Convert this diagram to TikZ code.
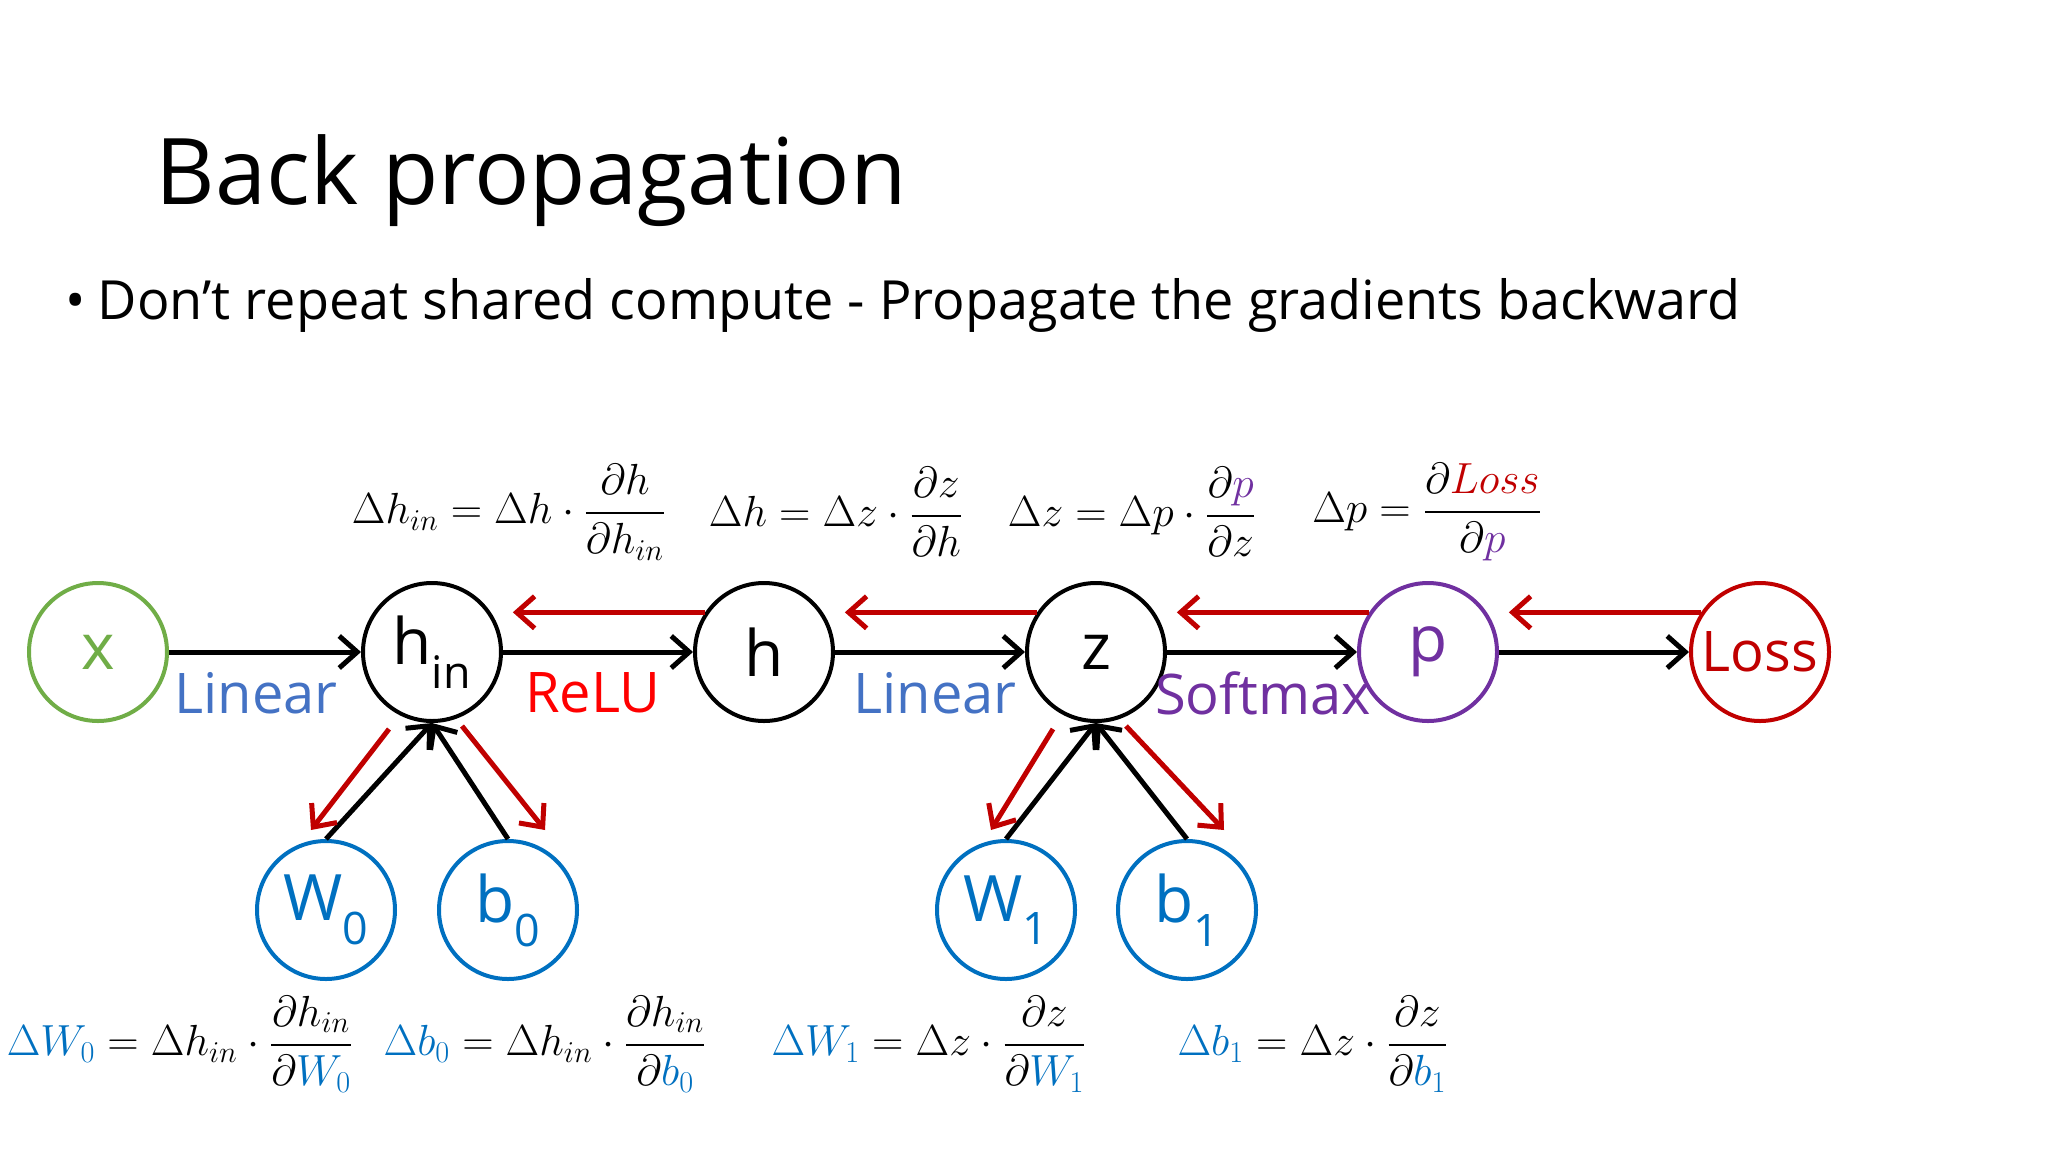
\documentclass[tikz,border=0pt]{standalone}
\usepackage{amsmath}
\usepackage{fontspec}
\setmainfont{Open Sans}
\usetikzlibrary{arrows.meta,calc}
\definecolor{cgreen}{HTML}{70AD47}
\definecolor{cblue}{HTML}{0070C0}
\definecolor{clin}{HTML}{4472C4}
\definecolor{cdred}{HTML}{C00000}
\definecolor{cpurp}{HTML}{7030A0}
\definecolor{cred}{HTML}{FF0000}
\newcommand{\eqbox}[1]{\scalebox{1.75}{\fontsize{24}{28}\selectfont #1}}
\begin{document}
\begin{tikzpicture}[x=1pt,y=-1pt,
  nd/.style={circle,draw,line width=4pt,minimum size=138pt,inner sep=0pt,font=\fontsize{64}{68}\selectfont},
  fw/.style={line width=5pt,-{Straight Barb[length=18pt,width=32pt,line width=5pt]}},
  bw/.style={line width=5pt,cdred,-{Straight Barb[length=18pt,width=32pt,line width=5pt]}},
  lab/.style={font=\fontsize{56}{60}\selectfont},
  eq/.style={}]
\useasboundingbox (0,0) rectangle (2048,1152);
\node[anchor=base west,font=\fontsize{92}{100}\selectfont] (title) at (152,204) {Back propagation};
\node[anchor=base west,font=\fontsize{54}{58}\selectfont] (bul) at (62,319) {•\hspace{12pt}Don’t repeat shared compute - Propagate the gradients backward};
% nodes
\node[nd,draw=cgreen,text=cgreen] (x) at (98,652) {x};
\node[nd] (hin) at (432,652) {h\textsubscript{in}};
\node[nd] (h) at (764,652) {h};
\node[nd] (z) at (1096,652) {z};
\node[nd,draw=cpurp,text=cpurp] (p) at (1428,652) {p};
\node[nd,draw=cdred,text=cdred,font=\fontsize{56}{60}\selectfont] (L) at (1760,652) {Loss};
\node[nd,draw=cblue,text=cblue] (W0) at (326,910) {W\textsubscript{0}};
\node[nd,draw=cblue,text=cblue] (b0) at (508,910) {b\textsubscript{0}};
\node[nd,draw=cblue,text=cblue] (W1) at (1006,910) {W\textsubscript{1}};
\node[nd,draw=cblue,text=cblue] (b1) at (1187,910) {b\textsubscript{1}};
% forward
\draw[fw] (x) -- (hin);
\draw[fw] (hin) -- (h);
\draw[fw] (h) -- (z);
\draw[fw] (z) -- (p);
\draw[fw] (p) -- (L);
\draw[fw] (W0.north) -- (hin.south);
\draw[fw] (b0.north) -- (hin.south);
\draw[fw] (W1.north) -- (z.south);
\draw[fw] (b1.north) -- (z.south);
% backward
\draw[bw,shorten >=22pt] (h.146) -- (hin.34 |- h.146);
\draw[bw,shorten >=22pt] (z.146) -- (h.34 |- z.146);
\draw[bw,shorten >=22pt] (p.146) -- (z.34 |- p.146);
\draw[bw,shorten >=22pt] (L.146) -- (p.34 |- L.146);
\draw[bw] ($(hin.center)+(-43,77)$) -- ($(W0.center)+(-15,-80)$);
\draw[bw] ($(hin.center)+(30,74)$) -- ($(b0.center)+(37,-80)$);
\draw[bw] ($(z.center)+(-43,77)$) -- ($(W1.center)+(-15,-80)$);
\draw[bw] ($(z.center)+(30,74)$) -- ($(b1.center)+(37,-80)$);
% op labels
\node[lab,text=clin] (l1) at (256,693) {Linear};
\node[lab,text=cred] (l2) at (593,693) {ReLU};
\node[lab,text=clin] (l3) at (935,693) {Linear};
\node[lab,text=cpurp] (l4) at (1263,693) {Softmax};
% equations
\node[eq] (e1) at (509,512) {\eqbox{$\Delta h_{in}=\Delta h\cdot\dfrac{\partial h}{\partial h_{in}}$}};
\node[eq] (e2) at (836,512) {\eqbox{$\Delta h=\Delta z\cdot\dfrac{\partial z}{\partial h}$}};
\node[eq] (e3) at (1132,512) {\eqbox{$\Delta z=\Delta p\cdot\dfrac{\partial {\color{cpurp}p}}{\partial z}$}};
\node[eq] (e4) at (1427,512) {\eqbox{$\Delta p=\dfrac{\partial {\color{cdred}Loss}}{\partial {\color{cpurp}p}}$}};
\node[eq] (e5) at (180,1044) {\eqbox{${\color{cblue}\Delta W_0}=\Delta h_{in}\cdot\dfrac{\partial h_{in}}{\partial {\color{cblue}W_0}}$}};
\node[eq] (e6) at (545,1044) {\eqbox{${\color{cblue}\Delta b_0}=\Delta h_{in}\cdot\dfrac{\partial h_{in}}{\partial {\color{cblue}b_0}}$}};
\node[eq] (e7) at (929,1044) {\eqbox{${\color{cblue}\Delta W_1}=\Delta z\cdot\dfrac{\partial z}{\partial {\color{cblue}W_1}}$}};
\node[eq] (e8) at (1313,1044) {\eqbox{${\color{cblue}\Delta b_1}=\Delta z\cdot\dfrac{\partial z}{\partial {\color{cblue}b_1}}$}};
\end{tikzpicture}
\end{document}
